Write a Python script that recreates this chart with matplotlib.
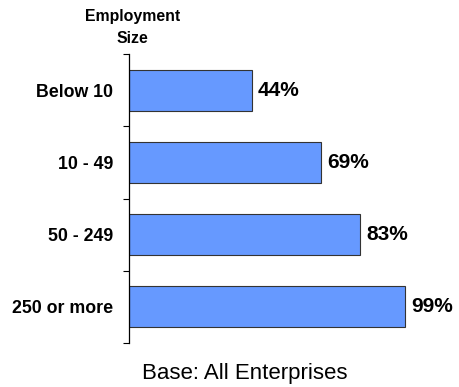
import matplotlib
matplotlib.use("Agg")
import matplotlib.pyplot as plt
import numpy as np

plt.rcParams['font.family'] = ['Liberation Sans', 'DejaVu Sans']

categories = ['Below 10', '10 - 49', '50 - 249', '250 or more']
values = [44, 69, 83, 99]
value_labels = ['44%', '69%', '83%', '99%']

fig = plt.figure(figsize=(4.6, 3.87), dpi=100)
ax = fig.add_axes([129 / 460, 44 / 387, 340 / 460, 289 / 387])

y = np.arange(len(categories))
ax.barh(y, values, height=0.57, color='#6699ff', edgecolor='#333333', linewidth=0.8)

for yi, v, lab in zip(y, values, value_labels):
    ax.annotate(lab, (v, yi), xytext=(4.5, 0), textcoords='offset points',
                ha='left', va='center', fontsize=15, fontweight='bold')

ax.set_ylim(len(categories) - 0.5, -0.5)
ax.set_xlim(0, 122)
ax.set_yticks(y)
ax.set_yticklabels(categories, fontsize=12.8, fontweight='bold')
ax.set_yticks(np.arange(len(categories) + 1) - 0.5, minor=True)
ax.tick_params(axis='y', which='major', length=0, pad=11.5)
ax.tick_params(axis='y', which='minor', length=4, width=0.8, direction='out')
ax.set_xticks([])
for s in ['top', 'right', 'bottom']:
    ax.spines[s].set_visible(False)
ax.spines['left'].set_linewidth(0.9)

fig.text(132.5 / 460, 1 - 27.5 / 387, 'Employment\nSize', ha='center', va='center',
         fontsize=11.4, fontweight='bold', linespacing=1.65)
fig.text(245 / 460, 14 / 387, 'Base: All Enterprises', ha='center', va='center',
         fontsize=16)

fig.savefig('out.png', dpi=100)
